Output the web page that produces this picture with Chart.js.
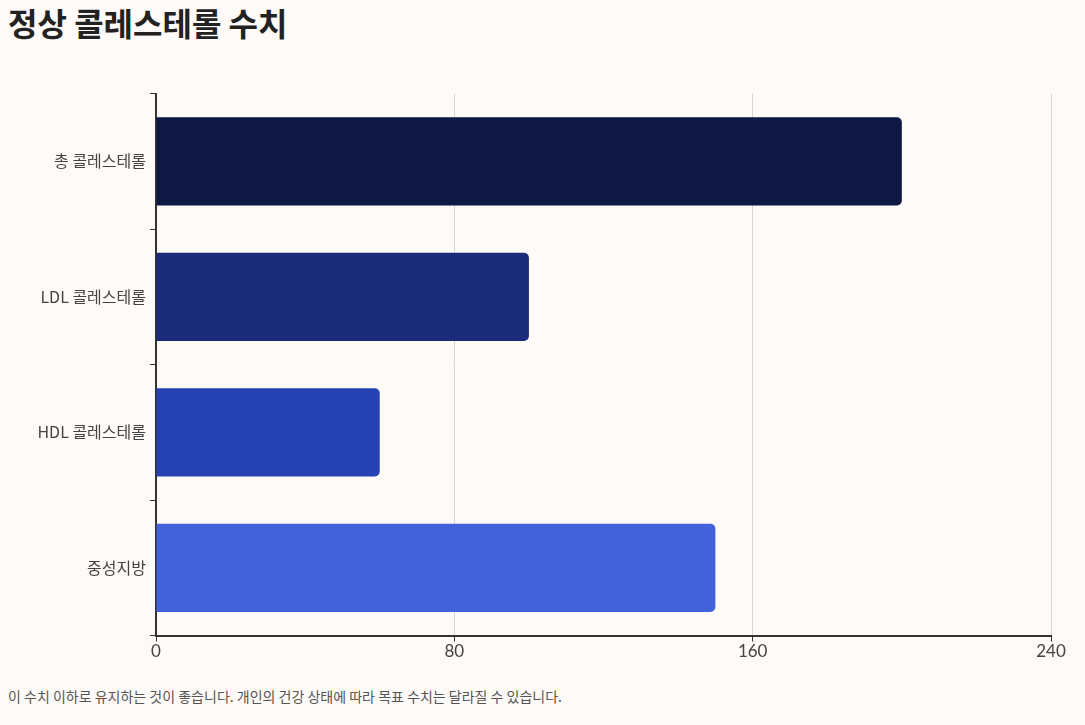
<!DOCTYPE html>
<html><head><meta charset="utf-8">
<script src="https://cdn.jsdelivr.net/npm/chart.js@4"></script>
<style>
body{margin:0;background:#fdfaf8;font-family:"Noto Sans CJK KR","Noto Sans",sans-serif;}
h1{position:absolute;left:8px;top:0;margin:0;font-size:32px;font-weight:700;color:#222;line-height:44px;}
#wrap{position:absolute;left:0;top:80px;width:1085px;height:582px;}
p{position:absolute;left:8px;top:686px;margin:0;font-size:14px;color:#555;}
</style></head><body>
<h1>정상 콜레스테롤 수치</h1>
<div id="wrap"><canvas id="c"></canvas></div>
<p>이 수치 이하로 유지하는 것이 좋습니다. 개인의 건강 상태에 따라 목표 수치는 달라질 수 있습니다.</p>
<script>
var labels = ['총 콜레스테롤', 'LDL 콜레스테롤', 'HDL 콜레스테롤', '중성지방'];
var values = [200, 100, 60, 150];
var colors = ['#0e1842', '#1a2c79', '#2541b2', '#4361d8'];
var xTicks = [0, 80, 160, 240];

new Chart(document.getElementById('c'), {
    type: 'bar',
    data: {
        labels: labels,
        datasets: [{ data: values, backgroundColor: colors, borderRadius: 5, borderSkipped: 'start', categoryPercentage: 0.65, barPercentage: 1 }]
    },
    options: {
        indexAxis: 'y',
        responsive: true,
        maintainAspectRatio: false,
        animation: false,
        layout: { padding: { top: 12, right: 34 } },
        plugins: { legend: { display: false }, tooltip: { enabled: false } },
        scales: {
            x: {
                min: 0, max: 240,
                afterBuildTicks: function(s) { s.ticks = xTicks.map(function(v) { return { value: v }; }); },
                grid: { color: '#d8d6d4', tickColor: '#333', tickLength: 6 },
                border: { color: '#333', width: 2 },
                ticks: { color: '#444', font: { size: 17, family: 'Lato' }, padding: 0 }
            },
            y: {
                afterFit: function(s) { s.width = 156; },
                grid: { color: 'rgba(0,0,0,0)', tickColor: '#333', tickLength: 6 },
                border: { color: '#333', width: 2 },
                ticks: { color: '#444', font: { size: 16, family: '"Noto Sans CJK KR"' }, padding: 4 }
            }
        }
    }
});
</script>
</body></html>
